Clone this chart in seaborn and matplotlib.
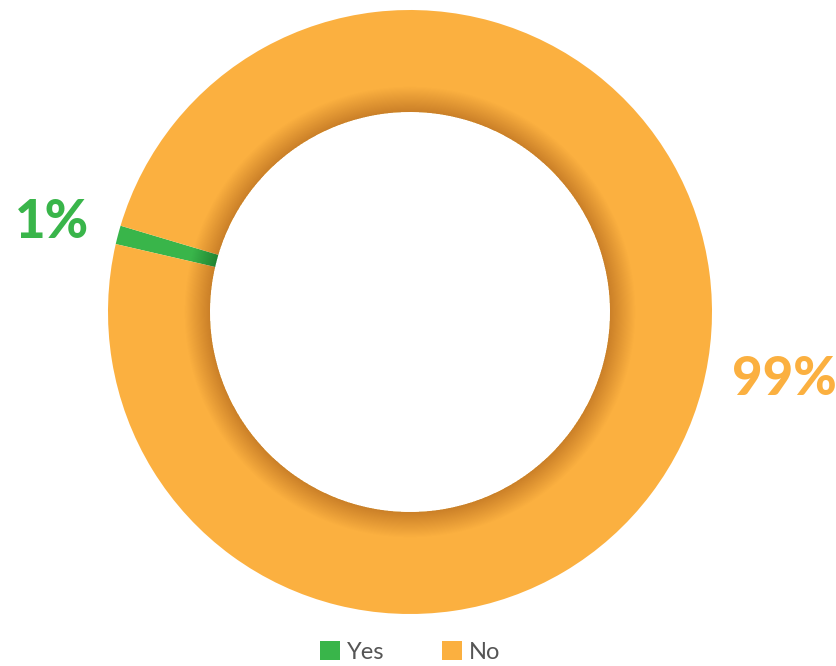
import numpy as np
import matplotlib
matplotlib.use("Agg")
import matplotlib.pyplot as plt
import seaborn as sns
from matplotlib.patches import Patch, Wedge

# data
labels = ["Yes", "No"]
values = [1, 99]
pct_labels = ["1%", "99%"]
colors = ["#39B54A", "#FBB040"]

sns.set_theme(style="white")
plt.rcParams["font.family"] = ["Lato", "DejaVu Sans"]

fig = plt.figure(figsize=(8.37, 6.66), dpi=100)
# donut centre ~ (410, 312) px, outer radius ~302 px
ax = fig.add_axes([108 / 837, 52 / 666, 604 / 837, 604 / 666])

inner = 200 / 302
wedges, _ = ax.pie(values, colors=colors, startangle=163.4, counterclock=True,
                   radius=1, wedgeprops=dict(width=1 - inner, linewidth=0))
ax.set_xlim(-1, 1)
ax.set_ylim(-1, 1)
ax.set_aspect("equal")
ax.axis("off")

# soft inner shadow on the ring
n = 24
for i in range(n):
    w = 0.0035 * (i + 1)
    ax.add_patch(Wedge((0, 0), inner + w, 0, 360, width=w,
                       facecolor="black", alpha=0.006, linewidth=0))

# percentage labels
ax.text(-1.185, 0.298, pct_labels[0], color=colors[0], fontsize=38,
        fontweight="black", ha="center", va="center", clip_on=False)
ax.text(1.238, -0.225, pct_labels[1], color=colors[1], fontsize=38,
        fontweight="black", ha="center", va="center", clip_on=False)

handles = [Patch(facecolor=c, edgecolor="none", label=l) for c, l in zip(colors, labels)]
fig.legend(handles=handles, loc="lower center", bbox_to_anchor=(0.49, -0.027), ncol=2,
           frameon=False, fontsize=17, handlelength=0.85, handleheight=0.85,
           handletextpad=0.3, columnspacing=2.4, labelcolor="#555555")

fig.savefig("out.png", dpi=100)
